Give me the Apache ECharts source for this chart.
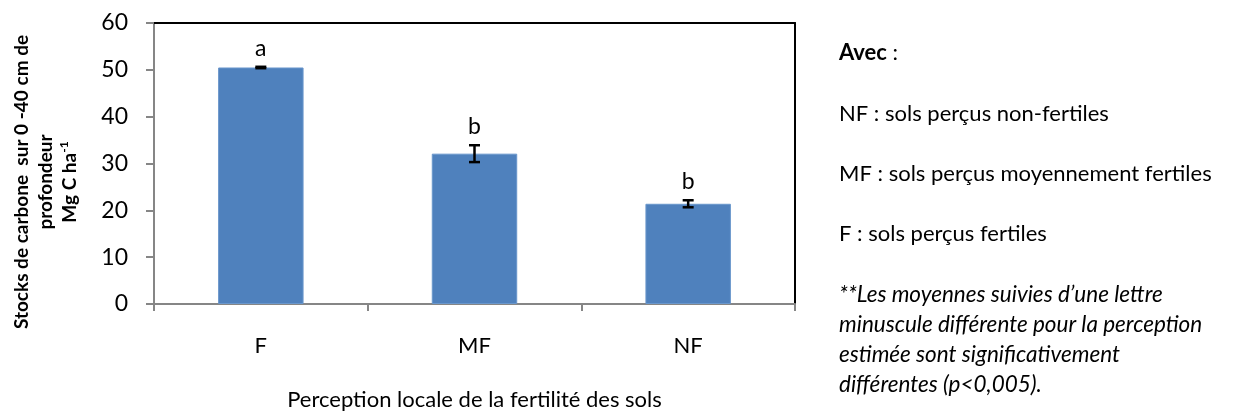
<!DOCTYPE html>
<html>
<head>
<meta charset="utf-8">
<script src="https://cdn.jsdelivr.net/npm/echarts@6/dist/echarts.min.js"></script>
<style>
  html, body { margin: 0; padding: 0; background: #fff; }
  #chart { width: 1235px; height: 416px; }
</style>
</head>
<body>
<div id="chart"></div>
<script>
// données
const categories = ['F', 'MF', 'NF'];
const stockMeans = [50.5, 32.1, 21.4];
const stockErrors = [0.15, 1.8, 0.75];
const letters = ['a', 'b', 'b'];

const legendLines = [
  'NF : sols perçus non-fertiles',
  'MF : sols perçus moyennement fertiles',
  'F : sols perçus fertiles'
];
const noteLines = [
  '**Les moyennes suivies d\u2019une lettre',
  'minuscule différente pour la perception',
  'estimée sont significativement',
  'différentes (p<0,005).'
];

const FONT = 'Lato, "Open Sans", sans-serif';
const AXIS_GREY = '#868686';

const chart = echarts.init(document.getElementById('chart'), null, { renderer: 'canvas' });

// barres d'erreur + lettres
const errorData = categories.map((c, i) => [i, stockMeans[i], stockErrors[i], letters[i]]);

const renderError = (params, api) => {
  const x = api.value(0);
  const y = api.value(1);
  const e = api.value(2);
  const top = api.coord([x, y + e]);
  const bot = api.coord([x, y - e]);
  const half = 5.5;
  const style = { stroke: '#000', lineWidth: 2.5 };
  return {
    type: 'group',
    children: [
      { type: 'line', shape: { x1: top[0], y1: top[1], x2: bot[0], y2: bot[1] }, style },
      { type: 'line', shape: { x1: top[0] - half, y1: top[1], x2: top[0] + half, y2: top[1] }, style },
      { type: 'line', shape: { x1: bot[0] - half, y1: bot[1], x2: bot[0] + half, y2: bot[1] }, style },
      {
        type: 'text',
        x: top[0],
        y: top[1] - 7,
        style: {
          text: errorData[params.dataIndex][3],
          align: 'center',
          verticalAlign: 'bottom',
          fontSize: 23,
          fontFamily: FONT,
          fill: '#000'
        }
      }
    ]
  };
};

// textes de droite
const rightTexts = [
  { type: 'text', left: 839, top: 42, style: { text: '{b|Avec} :', rich: { b: { fontWeight: 'bold', fontSize: 22, fontFamily: FONT } }, fontSize: 22, fontFamily: FONT, fill: '#000' } }
];
legendLines.forEach((t, i) => {
  rightTexts.push({ type: 'text', left: 839, top: 103 + i * 60, style: { text: t, fontSize: 22, fontFamily: FONT, fill: '#000' } });
});
noteLines.forEach((t, i) => {
  rightTexts.push({ type: 'text', left: 839, top: 283 + i * 30, style: { text: t, fontSize: 22.5, fontStyle: 'italic', fontFamily: FONT, fill: '#000' } });
});

const option = {
  animation: false,
  grid: { left: 154, right: 440, top: 23, bottom: 101 },
  xAxis: [
    {
      type: 'category',
      data: categories,
      axisLine: { lineStyle: { color: AXIS_GREY, width: 2 } },
      axisTick: { show: true, length: 7, lineStyle: { color: AXIS_GREY, width: 2 } },
      axisLabel: { color: '#000', fontSize: 22, fontFamily: FONT, margin: 31 },
      name: 'Perception locale de la fertilité des sols',
      nameLocation: 'middle',
      nameGap: 85,
      nameTextStyle: { color: '#000', fontSize: 22, fontFamily: FONT }
    },
    {
      type: 'category',
      position: 'top',
      data: categories,
      axisLine: { show: true, onZero: false, lineStyle: { color: '#000', width: 2 } },
      axisTick: { show: false },
      axisLabel: { show: false }
    }
  ],
  yAxis: [
    {
      type: 'value',
      min: 0,
      max: 60,
      interval: 10,
      axisLine: { show: true, lineStyle: { color: AXIS_GREY, width: 2 } },
      axisTick: { show: true, length: 8, lineStyle: { color: AXIS_GREY, width: 2 } },
      splitLine: { show: false },
      axisLabel: { color: '#000', fontSize: 23, fontFamily: FONT, margin: 26 }
    },
    {
      type: 'value',
      position: 'right',
      min: 0,
      max: 60,
      interval: 10,
      axisLine: { show: true, onZero: false, lineStyle: { color: '#000', width: 2 } },
      axisTick: { show: false },
      axisLabel: { show: false },
      splitLine: { show: false }
    }
  ],
  series: [
    {
      name: 'Stocks',
      type: 'bar',
      data: stockMeans,
      barWidth: '40%',
      itemStyle: { color: '#4F81BD', borderColor: '#6A97CC', borderWidth: 1 }
    },
    {
      name: 'Erreur',
      type: 'custom',
      renderItem: renderError,
      data: errorData,
      z: 10
    }
  ],
  graphic: [
    {
      type: 'text',
      x: 46,
      y: 182,
      rotation: Math.PI / 2,
      style: {
        text: 'Stocks de carbone  sur 0 -40 cm de\nprofondeur\nMg C ha{sup|-1}',
        align: 'center',
        verticalAlign: 'middle',
        fontSize: 19,
        fontWeight: 'bold',
        lineHeight: 24,
        fontFamily: FONT,
        fill: '#000',
        rich: {
          sup: { fontSize: 12, fontWeight: 'bold', verticalAlign: 'top', lineHeight: 24, fontFamily: FONT }
        }
      }
    }
  ].concat(rightTexts)
};

chart.setOption(option);

window.addEventListener('resize', () => chart.resize());
</script>
</body>
</html>
